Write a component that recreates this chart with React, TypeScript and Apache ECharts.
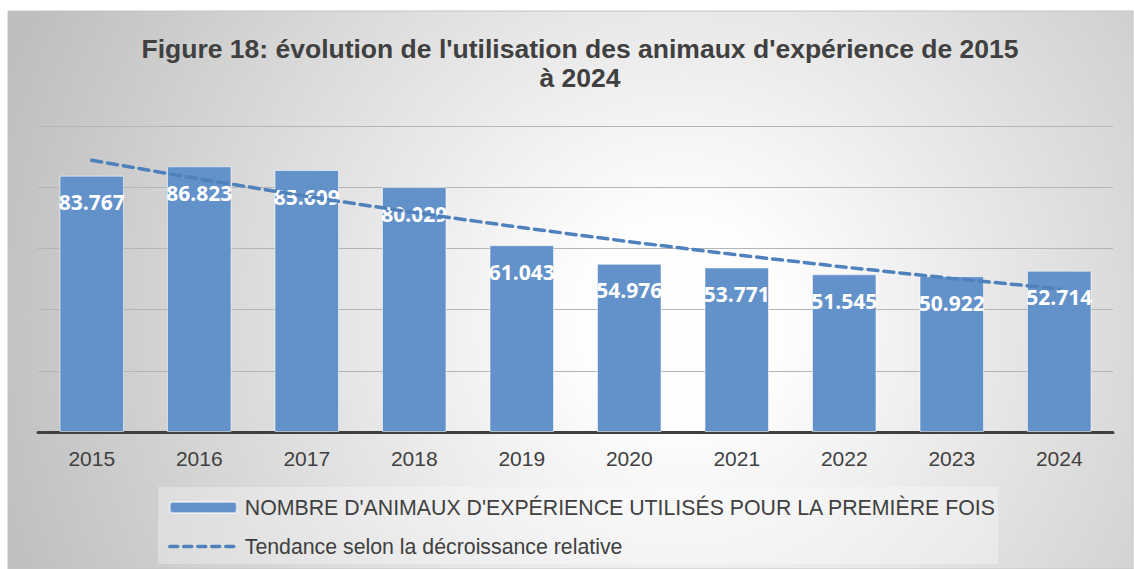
import React, { useEffect, useRef } from "react";
import * as echarts from "echarts";

const years = ["2015", "2016", "2017", "2018", "2019", "2020", "2021", "2022", "2023", "2024"];
const animals = [83767, 86823, 85609, 80029, 61043, 54976, 53771, 51545, 50922, 52714];
// trend line (exponential, "décroissance relative") values
const trend = [88800, 82700, 77000, 71700, 66800, 62200, 57900, 53900, 50200, 46800];
const titleText = "Figure 18: évolution de l'utilisation des animaux d'expérience de 2015\nà 2024";
const barName = "NOMBRE D'ANIMAUX D'EXPÉRIENCE UTILISÉS POUR LA PREMIÈRE FOIS";
const lineName = "Tendance selon la décroissance relative";

const fmt = (v: number) => String(v).replace(/\B(?=(\d{3})+(?!\d))/g, ".");

export default function App() {
  const ref = useRef<HTMLDivElement>(null);
  useEffect(() => {
    const chart = echarts.init(ref.current!, null, { renderer: "svg" });
    const font = "'Liberation Sans', Arial, sans-serif";
    chart.setOption({
      animation: false,
      backgroundColor: "#ffffff",
      graphic: [
        {
          type: "rect",
          z: -10,
          silent: true,
          shape: { x: 8, y: 11, width: 1125, height: 558 },
          style: {
            fill: {
              type: "radial",
              x: 680,
              y: 320,
              r: 720,
              global: true,
              colorStops: [
                { offset: 0, color: "#ffffff" },
                { offset: 0.15, color: "#fdfdfd" },
                { offset: 1, color: "#bebebe" },
              ],
            },
            stroke: "#c4c4c4",
            lineWidth: 1,
          },
        },
      ],
      title: {
        text: titleText,
        left: 575,
        top: 29,
        textAlign: "center",
        textStyle: {
          fontFamily: font,
          fontSize: 26.5,
          fontWeight: "bold",
          color: "#404040",
          lineHeight: 29,
        },
      },
      grid: { left: 38, right: 21, top: 126, bottom: 137, containLabel: false },
      legend: {
        orient: "vertical",
        left: 158,
        top: 487,
        padding: [10, 2, 7, 10],
        itemGap: 18,
        itemWidth: 67,
        itemHeight: 11,
        backgroundColor: "rgba(255,255,255,0.3)",
        textStyle: {
          fontFamily: font,
          fontSize: 21.3,
          color: "#404040",
          padding: [0, 0, 0, 3],
        },
        data: [
          { name: barName },
          {
            name: lineName,
            itemStyle: { opacity: 0, borderWidth: 0 },
            lineStyle: { width: 3.5, type: [8, 6], cap: "round", color: "#4f81bd" },
          },
        ],
      },
      xAxis: {
        type: "category",
        data: years,
        axisLine: { lineStyle: { color: "#404040", width: 3 } },
        axisTick: { show: false },
        axisLabel: { fontFamily: font, fontSize: 21, color: "#404040", margin: 16 },
      },
      yAxis: {
        type: "value",
        min: 0,
        max: 100000,
        interval: 20000,
        axisLabel: { show: false },
        axisLine: { show: false },
        axisTick: { show: false },
        splitLine: { lineStyle: { color: "#b5b5b5", width: 1.2 } },
      },
      series: [
        {
          name: barName,
          type: "bar",
          data: animals,
          barWidth: "60%",
          z: 2,
          itemStyle: {
            color: "#6391c9",
            borderColor: "rgba(255,255,255,0.55)",
            borderWidth: 1,
          },
          label: {
            show: true,
            position: "insideTop",
            distance: 16,
            color: "#ffffff",
            fontFamily: "'Open Sans', sans-serif",
            fontWeight: "bold",
            fontSize: 21,
            formatter: (p: any) => fmt(p.value),
          },
        },
        {
          name: lineName,
          type: "line",
          data: trend,
          z: 5,
          symbol: "none",
          lineStyle: { color: "#4f81bd", width: 3.5, type: [10, 6], cap: "round" },
          itemStyle: { color: "#4f81bd" },
        },
      ],
    });
    return () => chart.dispose();
  }, []);
  return (
    <div
      ref={ref}
      style={{ position: "fixed", left: 0, top: 0, width: 1134, height: 569 }}
    />
  );
}
